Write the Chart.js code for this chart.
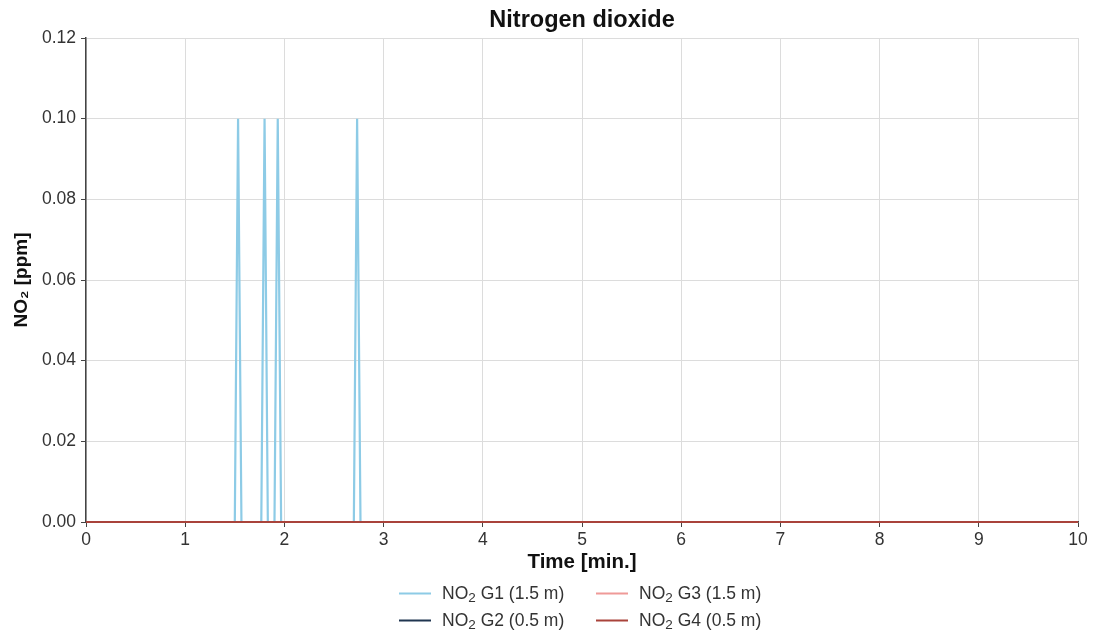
<!DOCTYPE html>
<html>
<head>
<meta charset="utf-8">
<script src="https://cdn.jsdelivr.net/npm/chart.js@4"></script>
<style>
  html, body { margin: 0; padding: 0; background: #fff; }
  #wrap { position: relative; width: 1100px; height: 633px; }
  #chart { position: absolute; left: 0; top: 0; }
  .legend-item {
    position: absolute; display: flex; align-items: center;
    font-family: "Liberation Sans", Arial, sans-serif; font-size: 17.5px; color: #333;
    white-space: nowrap; transform: translateY(-50%);
  }
  .legend-item .swatch { display: inline-block; width: 32px; height: 2px; margin-right: 11px; }
  .legend-item sub { font-size: 13.5px; position: relative; top: 4px; vertical-align: baseline; line-height: 0; }
</style>
</head>
<body>
<div id="wrap">
  <canvas id="chart" width="1100" height="633"></canvas>
  <div id="legend"></div>
</div>
<script>
// Time axis (minutes) and NO2 readings (ppm) per gas sensor
const timeG1 = [0, 1.5, 1.533, 1.567, 1.767, 1.8, 1.833, 1.9, 1.933, 1.967, 2.7, 2.733, 2.767, 10];
const no2G1  = [0, 0,   0.1,   0,     0,     0.1, 0,     0,   0.1,   0,     0,   0.1,   0,     0];
const timeG2 = [0, 10];
const no2G2  = [0, 0];
const timeG3 = [0, 10];
const no2G3  = [0, 0];
const timeG4 = [0, 10];
const no2G4  = [0, 0];

const xTicks = [0, 1, 2, 3, 4, 5, 6, 7, 8, 9, 10];
const yTicks = [0, 0.02, 0.04, 0.06, 0.08, 0.10, 0.12];

const seriesNames = ['G1 (1.5 m)', 'G2 (0.5 m)', 'G3 (1.5 m)', 'G4 (0.5 m)'];
const seriesColors = ['#8dcbe6', '#1f3550', '#ef9a98', '#a9433b'];

const toPoints = (t, v) => t.map((x, i) => ({ x: x, y: v[i] }));
const seriesData = [toPoints(timeG1, no2G1), toPoints(timeG2, no2G2), toPoints(timeG3, no2G3), toPoints(timeG4, no2G4)];

const FONT = '"Liberation Sans", Arial, sans-serif';

// Chart heading centred over the plotting area
const headingPlugin = {
  id: 'heading',
  afterDraw(chart) {
    const { ctx, chartArea } = chart;
    ctx.save();
    ctx.font = 'bold 23.5px ' + FONT;
    ctx.fillStyle = '#111';
    ctx.textAlign = 'center';
    ctx.textBaseline = 'middle';
    ctx.fillText('Nitrogen dioxide', (chartArea.left + chartArea.right) / 2, 21);
    ctx.restore();
  }
};

new Chart(document.getElementById('chart'), {
  type: 'line',
  data: {
    datasets: seriesData.map((d, i) => ({
      label: 'NO₂ ' + seriesNames[i],
      data: d,
      borderColor: seriesColors[i],
      backgroundColor: seriesColors[i],
      borderWidth: 2.2,
      pointRadius: 0,
      tension: 0,
      fill: false,
      clip: false,
      order: seriesData.length - i   // later series drawn on top
    }))
  },
  options: {
    responsive: false,
    animation: false,
    layout: { padding: { top: 38, right: 22, bottom: 58, left: 0 } },
    plugins: { legend: { display: false }, title: { display: false }, tooltip: { enabled: false } },
    scales: {
      x: {
        type: 'linear', min: 0, max: 10,
        afterBuildTicks: s => { s.ticks = xTicks.map(v => ({ value: v })); },
        afterFit: s => { s.height = 53; },
        ticks: { font: { family: FONT, size: 17.5 }, color: '#333', padding: 3, maxRotation: 0 },
        grid: { color: '#dcdcdc', lineWidth: 1, tickLength: 5, tickColor: '#444' },
        border: { color: '#444', width: 1.5 },
        title: { display: true, text: 'Time [min.]', font: { family: FONT, size: 20.5, weight: 'bold' }, color: '#111', padding: { top: 0, bottom: 0 } }
      },
      y: {
        min: 0, max: 0.12,
        afterBuildTicks: s => { s.ticks = yTicks.map(v => ({ value: v })); },
        afterFit: s => { s.width = 86; },
        ticks: { font: { family: FONT, size: 17.5 }, color: '#333', padding: 5, callback: v => v.toFixed(2) },
        grid: { color: '#dcdcdc', lineWidth: 1, tickLength: 5, tickColor: '#444' },
        border: { color: '#444', width: 1.5 },
        title: { display: true, text: 'NO₂ [ppm]', font: { family: FONT, size: 19, weight: 'bold' }, color: '#111', padding: { top: 10, bottom: 0 } }
      }
    }
  },
  plugins: [headingPlugin]
});

// Two-column legend below the axis
const legendSlots = [
  { i: 0, left: 399, top: 593 },
  { i: 2, left: 596, top: 593 },
  { i: 1, left: 399, top: 620 },
  { i: 3, left: 596, top: 620 }
];
const legendEl = document.getElementById('legend');
legendSlots.forEach(s => {
  const item = document.createElement('div');
  item.className = 'legend-item';
  item.style.left = s.left + 'px';
  item.style.top = s.top + 'px';
  item.innerHTML = '<span class="swatch" style="background:' + seriesColors[s.i] + '"></span>NO<sub>2</sub>&nbsp;' + seriesNames[s.i];
  legendEl.appendChild(item);
});
</script>
</body>
</html>
